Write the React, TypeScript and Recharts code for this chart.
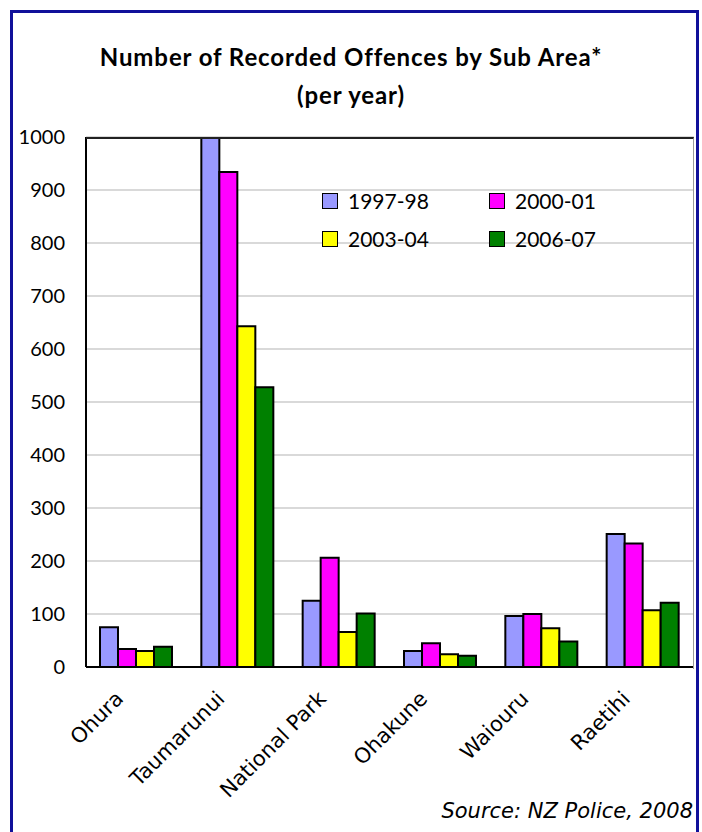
import React from 'react';
import { BarChart, Bar, XAxis, YAxis, CartesianGrid, Legend } from 'recharts';

const categories = ['Ohura', 'Taumarunui', 'National Park', 'Ohakune', 'Waiouru', 'Raetihi'];
const seriesNames = ['1997-98', '2000-01', '2003-04', '2006-07'];
const values1997 = [75, 1010, 125, 30, 96, 251];
const values2000 = [34, 934, 206, 45, 100, 233];
const values2003 = [30, 643, 66, 24, 73, 107];
const values2006 = [38, 528, 101, 21, 48, 121];
const yTicks = [0, 100, 200, 300, 400, 500, 600, 700, 800, 900, 1000];

const colors = ['#9999ff', '#ff00ff', '#ffff00', '#008000'];
const keys = ['s1', 's2', 's3', 's4'];

const data = categories.map((name, i) => ({
    name,
    s1: values1997[i],
    s2: values2000[i],
    s3: values2003[i],
    s4: values2006[i],
}));

const gill = 'Lato, "DejaVu Sans", sans-serif';

const AreaTick = (props: any) => {
    const { x, y, payload } = props;
    return (
        <g transform={`translate(${x - 12},${y + 25})`}>
            <text textAnchor="end" transform="rotate(-45)" fontFamily="DejaVu Sans" fontSize={21} fill="#000">
                {payload.value}
            </text>
        </g>
    );
};

const LegendBox = (props: any) => {
    const items = props.payload || [];
    return (
        <div style={{ display: 'grid', gridTemplateColumns: '167px 140px', rowGap: 15 }}>
            {items.map((it: any) => (
                <div key={it.value} style={{ display: 'flex', alignItems: 'center', height: 23 }}>
                    <span
                        style={{
                            width: 14,
                            height: 14,
                            background: it.color,
                            border: '1.5px solid #000',
                            marginRight: 10,
                        }}
                    />
                    <span style={{ fontFamily: gill, fontSize: 21, color: '#000' }}>{it.value}</span>
                </div>
            ))}
        </div>
    );
};

const titleStyle: React.CSSProperties = {
    position: 'absolute',
    left: 0,
    width: 702,
    textAlign: 'center',
    fontFamily: gill,
    fontWeight: 'bold',
    fontSize: 24,
    letterSpacing: 0.9,
};

export default function App() {
    return (
        <div style={{ position: 'absolute', left: 0, top: 0, width: 702, height: 832, background: '#fff', overflow: 'hidden' }}>
            <div
                style={{
                    position: 'absolute',
                    left: 10,
                    top: 10,
                    width: 683,
                    height: 900,
                    border: '3px solid #10109a',
                }}
            />
            <div style={{ ...titleStyle, top: 42 }}>Number of Recorded Offences by Sub Area*</div>
            <div style={{ ...titleStyle, top: 80 }}>(per year)</div>
            <div style={{ position: 'absolute', left: 0, top: 0 }}>
                <BarChart
                    width={702}
                    height={832}
                    data={data}
                    margin={{ top: 137, right: 8, left: 0, bottom: 65 }}
                    barCategoryGap={14}
                    barGap={0}
                >
                    <CartesianGrid vertical={false} stroke="#cccccc" strokeWidth={1.5} />
                    <XAxis
                        dataKey="name"
                        height={100}
                        tickLine={false}
                        axisLine={{ stroke: '#000', strokeWidth: 2 }}
                        tick={<AreaTick />}
                        interval={0}
                    />
                    <YAxis
                        width={86}
                        domain={[0, 1000]}
                        ticks={yTicks}
                        allowDataOverflow
                        tickLine={false}
                        tickMargin={15}
                        axisLine={{ stroke: '#000', strokeWidth: 2 }}
                        tick={{ fill: '#000', fontFamily: gill, fontSize: 20 }}
                    />
                    <Legend
                        layout="horizontal"
                        verticalAlign="middle"
                        align="center"
                        content={<LegendBox />}
                        wrapperStyle={{ left: 322, top: 189, width: 320 }}
                    />
                    {keys.map((k, i) => (
                        <Bar
                            key={k}
                            dataKey={k}
                            name={seriesNames[i]}
                            fill={colors[i]}
                            stroke="#000"
                            strokeWidth={2}
                            isAnimationActive={false}
                        />
                    ))}
                </BarChart>
            </div>
            <div
                style={{
                    position: 'absolute',
                    left: 86,
                    top: 137,
                    width: 607,
                    height: 530,
                    borderTop: '2px solid #222',
                    borderRight: '1px solid #999',
                    pointerEvents: 'none',
                }}
            />
            <div
                style={{
                    position: 'absolute',
                    right: 9,
                    top: 799,
                    fontFamily: 'DejaVu Sans',
                    fontStyle: 'italic',
                    fontSize: 21,
                }}
            >
                Source: NZ Police, 2008
            </div>
        </div>
    );
}
